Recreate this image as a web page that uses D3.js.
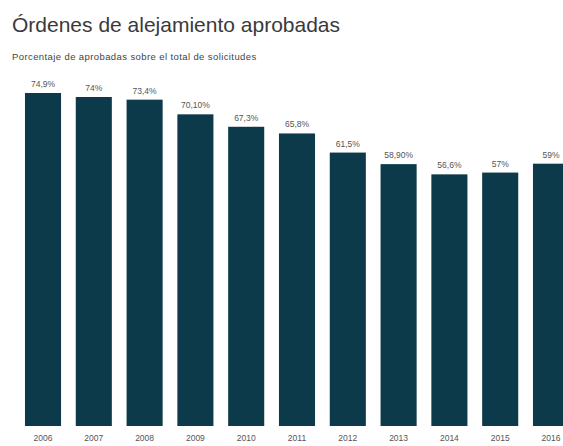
<!DOCTYPE html>
<html>

<head>
  <meta charset="utf-8">
  <title>Órdenes de alejamiento aprobadas</title>
  <script src="https://d3js.org/d3.v7.min.js"></script>
  <style>
    body {
      margin: 0;
      background-color: #ffffff;
      font-family: "Liberation Sans", Arial, sans-serif;
      overflow: hidden;
    }

    .title {
      font-size: 21px;
      fill: #3a3a3a;
    }

    .subtitle {
      font-size: 9.5px;
      letter-spacing: 0.4px;
      fill: #444;
    }

    .value-label,
    .year-label {
      font-size: 8.5px;
      fill: #555;
    }
  </style>
</head>

<body>
  <div class="chart"></div>
  <script>
    // Data
    const years = ["2006", "2007", "2008", "2009", "2010", "2011", "2012", "2013", "2014", "2015", "2016"];
    const values = [74.9, 74, 73.4, 70.1, 67.3, 65.8, 61.5, 58.9, 56.6, 57, 59];
    const valueLabels = ["74,9%", "74%", "73,4%", "70,10%", "67,3%", "65,8%", "61,5%", "58,90%", "56,6%", "57%", "59%"];

    const width = 563;
    const height = 446;
    const baseline = 426;

    const svg = d3
      .select(".chart")
      .append("svg")
      .attr("width", width)
      .attr("height", height);

    // Title and subtitle
    svg.append("text")
      .attr("class", "title")
      .attr("x", 12)
      .attr("y", 32)
      .text("Órdenes de alejamiento aprobadas");

    svg.append("text")
      .attr("class", "subtitle")
      .attr("x", 12)
      .attr("y", 60)
      .text("Porcentaje de aprobadas sobre el total de solicitudes");

    const step = 50.8;
    const x = d3.scaleBand()
      .domain(years)
      .range([17.6, 17.6 + step * years.length])
      .paddingInner(0.29)
      .paddingOuter(0.145);

    const y = d3.scaleLinear()
      .domain([0, 100])
      .range([baseline, baseline - 444.6]);

    const data = years.map((yr, i) => ({ year: yr, value: values[i], label: valueLabels[i] }));

    // Bars
    svg.selectAll(".bar")
      .data(data)
      .enter()
      .append("rect")
      .attr("class", "bar")
      .attr("x", (d) => x(d.year))
      .attr("y", (d) => y(d.value))
      .attr("width", x.bandwidth())
      .attr("height", (d) => baseline - y(d.value))
      .attr("fill", "#0d3a4a");

    // Value labels
    svg.selectAll(".value-label")
      .data(data)
      .enter()
      .append("text")
      .attr("class", "value-label")
      .attr("x", (d) => x(d.year) + x.bandwidth() / 2)
      .attr("y", (d) => y(d.value) - 6)
      .attr("text-anchor", "middle")
      .text((d) => d.label);

    // Year labels
    svg.selectAll(".year-label")
      .data(data)
      .enter()
      .append("text")
      .attr("class", "year-label")
      .attr("x", (d) => x(d.year) + x.bandwidth() / 2)
      .attr("y", 441)
      .attr("text-anchor", "middle")
      .text((d) => d.year);
  </script>
</body>

</html>
